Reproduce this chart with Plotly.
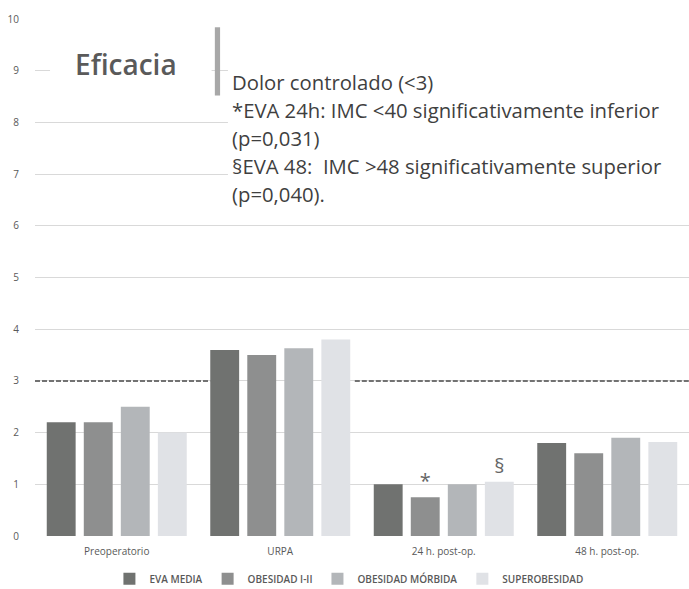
import plotly.graph_objects as go

categories = ["Preoperatorio", "URPA", "24 h. post-op.", "48 h. post-op."]
series_names = ["EVA MEDIA", "OBESIDAD I-II", "OBESIDAD MÓRBIDA", "SUPEROBESIDAD"]
eva_media = [2.2, 3.6, 1.0, 1.8]
obesidad_1_2 = [2.2, 3.5, 0.75, 1.6]
obesidad_morbida = [2.5, 3.63, 1.0, 1.9]
superobesidad = [2.0, 3.8, 1.05, 1.82]
marks_obesidad_1_2 = ["", "", "*", ""]
marks_superobesidad = ["", "", "§", ""]
threshold = 3
y_ticks = [0, 1, 2, 3, 4, 5, 6, 7, 8, 9, 10]
title_text = "Eficacia"
note_lines = [
    "Dolor controlado (<3)",
    "*EVA 24h: IMC <40 significativamente inferior",
    "(p=0,031)",
    "§EVA 48:  IMC >48 significativamente superior",
    "(p=0,040).",
]

colors = ["#707270", "#8e8f8f", "#b3b6b9", "#e0e2e6"]
values = [eva_media, obesidad_1_2, obesidad_morbida, superobesidad]
marks = [None, marks_obesidad_1_2, None, marks_superobesidad]

FONT = "Open Sans"
TXT = "#595959"

fig = go.Figure()
for name, vals, col, mk in zip(series_names, values, colors, marks):
    kw = {}
    if mk is not None:
        kw = dict(text=mk, textposition="outside", cliponaxis=False,
                  textfont=dict(size=20, color="#666666", family=FONT))
    fig.add_trace(go.Bar(x=categories, y=vals, name=name, marker=dict(color=col, line=dict(width=0)), **kw))

shapes = []
# white boxes hiding gridlines behind text boxes
shapes.append(dict(type="rect", xref="paper", yref="y", x0=0.023, x1=0.27, y0=8.55, y1=9.65,
                   fillcolor="white", line=dict(width=0), layer="above"))
shapes.append(dict(type="rect", xref="paper", yref="y", x0=0.295, x1=1.0, y0=6.2, y1=9.7,
                   fillcolor="white", line=dict(width=0), layer="above"))
# vertical grey bar
shapes.append(dict(type="rect", xref="paper", yref="y", x0=0.275, x1=0.283, y0=8.52, y1=9.84,
                   fillcolor="#a8a8a8", line=dict(width=0), layer="above"))
# dashed threshold line
for xa, xb in [(0.0, 0.268), (0.489, 1.0)]:
    shapes.append(dict(type="line", xref="paper", yref="y", x0=xa, x1=xb, y0=threshold, y1=threshold,
                       line=dict(color="#727272", width=2, dash="5px,2px"), layer="above"))

annotations = [dict(text=title_text, xref="paper", yref="y", x=0.058, y=9.13, xanchor="left", yanchor="middle",
                    showarrow=False, font=dict(family=FONT, size=28, color="#5a5a5a", weight=600))]
line_y = [8.78, 8.24, 7.70, 7.16, 6.62]
for t, yy in zip(note_lines, line_y):
    annotations.append(dict(text=t, xref="paper", yref="y", x=0.298, y=yy, xanchor="left", yanchor="middle",
                            showarrow=False, font=dict(family=FONT, size=20.3, color="#3f3f3f")))

fig.update_layout(
    width=689, height=589,
    margin=dict(l=35, r=0, t=19, b=53, autoexpand=False),
    paper_bgcolor="white", plot_bgcolor="white",
    barmode="group", bargap=0.094, bargroupgap=0.22,
    font=dict(family=FONT, color=TXT),
    shapes=shapes, annotations=annotations,
    showlegend=True,
    legend=dict(orientation="h", x=0.48, xanchor="center", yref="container", y=0.042, yanchor="top",
                font=dict(size=10, color=TXT, weight=600), itemwidth=30, traceorder="normal"),
)
fig.update_xaxes(range=[-0.5, 3.5], showgrid=False, showline=False, zeroline=False, ticks="",
                 automargin=False, ticklabelstandoff=8, tickfont=dict(size=10, color=TXT))
fig.update_yaxes(range=[0, 10], tickvals=y_ticks, showgrid=True, gridcolor="#d9d9d9", gridwidth=1,
                 zeroline=False, showline=False, ticks="", ticklabelstandoff=15, automargin=False,
                 tickfont=dict(size=10, color=TXT))

fig.write_html("out.html", config={"displayModeBar": False},
               post_script="document.body.style.margin='0';document.body.style.overflow='hidden';")
